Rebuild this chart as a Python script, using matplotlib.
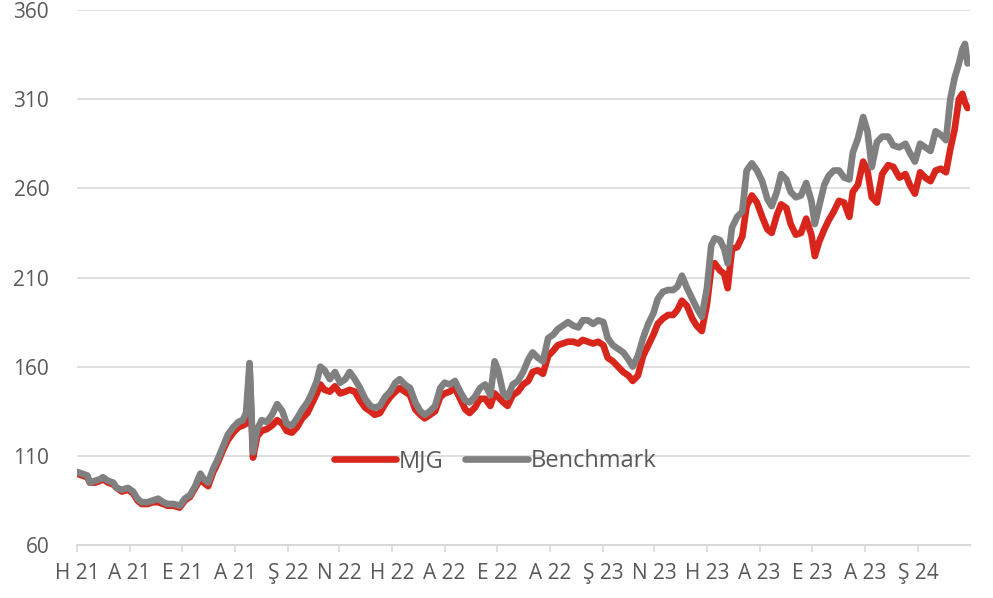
import matplotlib
matplotlib.use("Agg")
import matplotlib.pyplot as plt
import pandas as pd

# ---------------------------------------------------------
# DATA
# ---------------------------------------------------------
dates = [
    "2021-06-01", "2021-06-07", "2021-06-13", "2021-06-16", "2021-06-22", "2021-06-28",
    "2021-07-01", "2021-07-07", "2021-07-13", "2021-07-17", "2021-07-23", "2021-07-30",
    "2021-08-05", "2021-08-10", "2021-08-15", "2021-08-22", "2021-08-28",
    "2021-09-03", "2021-09-09", "2021-09-14", "2021-09-21", "2021-09-28",
    "2021-10-04", "2021-10-10", "2021-10-16", "2021-10-22", "2021-10-26", "2021-10-31",
    "2021-11-06", "2021-11-11", "2021-11-17", "2021-11-23", "2021-11-29",
    "2021-12-05", "2021-12-10", "2021-12-14", "2021-12-18", "2021-12-22", "2021-12-27",
    "2022-01-01", "2022-01-07", "2022-01-13", "2022-01-19", "2022-01-25", "2022-01-30",
    "2022-02-05", "2022-02-11", "2022-02-17", "2022-02-23", "2022-02-28",
    "2022-03-06", "2022-03-10", "2022-03-15", "2022-03-21", "2022-03-27",
    "2022-04-02", "2022-04-08", "2022-04-13", "2022-04-19", "2022-04-25",
    "2022-05-01", "2022-05-07", "2022-05-12", "2022-05-18", "2022-05-24", "2022-05-30",
    "2022-06-05", "2022-06-10", "2022-06-16", "2022-06-22", "2022-06-28",
    "2022-07-04", "2022-07-09", "2022-07-15", "2022-07-21", "2022-07-27",
    "2022-08-01", "2022-08-07", "2022-08-13", "2022-08-19", "2022-08-25", "2022-08-30",
    "2022-09-05", "2022-09-11", "2022-09-17", "2022-09-23", "2022-09-28",
    "2022-10-02", "2022-10-08", "2022-10-13", "2022-10-19", "2022-10-25", "2022-10-31",
    "2022-11-06", "2022-11-11", "2022-11-17", "2022-11-23", "2022-11-29",
    "2022-12-05", "2022-12-10", "2022-12-16", "2022-12-22", "2022-12-28",
    "2023-01-03", "2023-01-08", "2023-01-14", "2023-01-20", "2023-01-26",
    "2023-02-01", "2023-02-06", "2023-02-12", "2023-02-18", "2023-02-24",
    "2023-03-02", "2023-03-07", "2023-03-13", "2023-03-19", "2023-03-25", "2023-03-31",
    "2023-04-05", "2023-04-11", "2023-04-17", "2023-04-23", "2023-04-28",
    "2023-05-03", "2023-05-09", "2023-05-15", "2023-05-20", "2023-05-26",
    "2023-06-01", "2023-06-06", "2023-06-10", "2023-06-16", "2023-06-21", "2023-06-25", "2023-06-30",
    "2023-07-06", "2023-07-12", "2023-07-17", "2023-07-23", "2023-07-29",
    "2023-08-04", "2023-08-10", "2023-08-15", "2023-08-21", "2023-08-26",
    "2023-09-01", "2023-09-06", "2023-09-12", "2023-09-18", "2023-09-24", "2023-09-30",
    "2023-10-04", "2023-10-09", "2023-10-15", "2023-10-20", "2023-10-26",
    "2023-11-01", "2023-11-07", "2023-11-13", "2023-11-17", "2023-11-23", "2023-11-29",
    "2023-12-04", "2023-12-09", "2023-12-15", "2023-12-21", "2023-12-28",
    "2024-01-03", "2024-01-10", "2024-01-17", "2024-01-22", "2024-01-28",
    "2024-02-03", "2024-02-09", "2024-02-15", "2024-02-21", "2024-02-27",
    "2024-03-04", "2024-03-09", "2024-03-14", "2024-03-19", "2024-03-23", "2024-03-26", "2024-03-29",
]

mjg = [
    # 2021
    100, 99, 98, 95, 95, 96, 97, 95, 94, 92, 90, 91, 89, 85, 83, 83, 84, 84, 83, 82,
    82, 81, 85, 87, 92, 97, 95, 93, 101, 106, 113, 119, 123, 126, 127, 128, 158, 109, 121,
    # 2022
    124, 125, 127, 130, 128, 124, 123, 126, 131, 134, 139, 145, 150, 147, 146, 149,
    145, 146, 147, 146, 141, 137, 135, 133, 134, 139, 143, 146, 148, 146, 144, 136,
    133, 131, 133, 135, 143, 145, 146, 148, 142, 136, 134, 137, 142, 142, 138, 145,
    143, 140, 138, 144, 146, 150, 152, 157, 158, 156, 166, 169, 172, 173, 174, 174,
    # 2023
    173, 175, 174, 173, 174, 172, 165, 163, 160, 157, 155, 152, 155, 166, 172, 178,
    184, 187, 189, 189, 192, 197, 194, 187, 183, 180, 195, 215, 218, 214, 212, 204,
    226, 227, 233, 250, 256, 252, 244, 237, 235, 245, 251, 249, 240, 234, 235, 243,
    234, 222, 230, 237, 242, 247, 253, 252, 244, 258, 262, 275, 270, 255, 252, 268, 273,
    # 2024
    272, 266, 268, 262, 257, 269, 266, 264, 270, 271, 269, 282, 293, 310, 313, 308, 305,
]

benchmark = [
    # 2021
    101, 100, 99, 95, 96, 97, 98, 96, 95, 92, 91, 92, 90, 86, 84, 84, 85, 86, 84, 83,
    83, 82, 86, 88, 93, 100, 97, 95, 103, 108, 115, 122, 126, 129, 130, 134, 162, 112, 125,
    # 2022
    130, 129, 133, 139, 135, 128, 127, 131, 136, 140, 145, 152, 160, 158, 153, 157,
    151, 153, 157, 153, 148, 142, 138, 137, 138, 143, 146, 151, 153, 150, 148, 140,
    135, 133, 135, 138, 148, 151, 150, 152, 146, 141, 140, 143, 148, 150, 144, 163,
    158, 145, 143, 150, 152, 157, 164, 168, 165, 163, 176, 178, 181, 183, 185, 183,
    # 2023
    182, 186, 186, 184, 186, 185, 176, 172, 170, 168, 164, 160, 166, 176, 184, 190,
    198, 202, 203, 203, 205, 211, 204, 198, 193, 188, 204, 228, 232, 231, 226, 218,
    238, 244, 247, 270, 274, 270, 264, 254, 250, 258, 268, 265, 258, 255, 256, 263,
    253, 240, 250, 262, 267, 270, 270, 266, 265, 280, 288, 300, 292, 272, 286, 289, 289,
    # 2024
    284, 283, 285, 280, 275, 285, 283, 281, 292, 290, 287, 310, 322, 330, 338, 341, 330,
]

series_names = ["MJG", "Benchmark"]
y_ticks = [60, 110, 160, 210, 260, 310, 360]
# Turkish month initials used on the axis (every second month)
month_letters = {6: "H", 8: "A", 10: "E", 12: "A", 2: "Ş", 4: "N"}

# ---------------------------------------------------------
# PLOT
# ---------------------------------------------------------
plt.rcParams["font.family"] = ["Open Sans", "DejaVu Sans"]
text_color = "#595959"
grid_color = "#d9d9d9"
red, grey = "#d9261c", "#808080"

x = pd.to_datetime(dates)

fig = plt.figure(figsize=(9.93, 5.98), dpi=100)
ax = fig.add_axes([0.0775, 0.0886, 0.8995, 0.8947])

ax.plot(x, mjg, color=red, linewidth=4.8, solid_joinstyle="round",
        solid_capstyle="round", label=series_names[0], zorder=3)
ax.plot(x, benchmark, color=grey, linewidth=4.8, solid_joinstyle="round",
        solid_capstyle="round", label=series_names[1], zorder=4)

ax.set_ylim(60, 360)
ax.set_yticks(y_ticks)
ax.yaxis.grid(True, color=grid_color, linewidth=1.2, zorder=0)
ax.tick_params(axis="y", length=0, pad=20, labelsize=15, labelcolor=text_color)

# ticks every second month, label centred under each tick
tick_dates = pd.date_range("2021-06-01", "2024-02-01", freq="2MS")
ax.set_xlim(pd.Timestamp("2021-06-01"), pd.Timestamp("2024-04-01"))
ax.set_xticks(tick_dates)
ax.set_xticklabels([f"{month_letters[d.month]} {d.strftime('%y')}" for d in tick_dates])
ax.tick_params(axis="x", length=5, width=1.2, color=grid_color, pad=8,
               labelsize=15, labelcolor=text_color)

for s in ["top", "right", "left"]:
    ax.spines[s].set_visible(False)
ax.spines["bottom"].set_color(grid_color)
ax.spines["bottom"].set_linewidth(1.5)
ax.set_axisbelow(True)

leg = ax.legend(loc="center", bbox_to_anchor=(0.468, 0.157), ncol=2, frameon=False,
                fontsize=17, handlelength=2.65, handletextpad=0.12, columnspacing=0.9)
for t in leg.get_texts():
    t.set_color(text_color)
for h in leg.get_lines():
    h.set_linewidth(4.8)

fig.savefig("out.png", dpi=100)
